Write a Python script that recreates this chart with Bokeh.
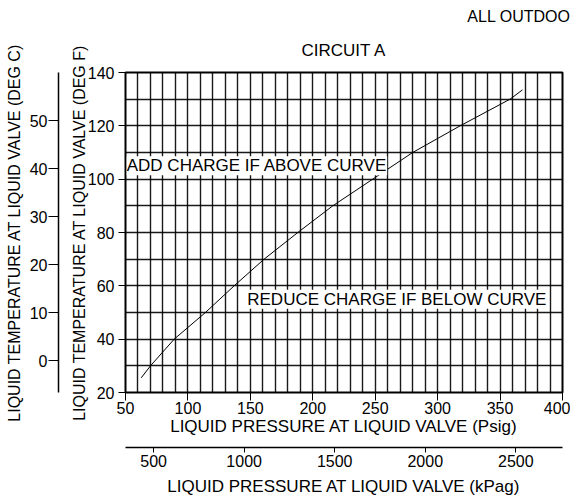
from bokeh.plotting import figure
from bokeh.models import (LinearAxis, Range1d, FixedTicker, SingleIntervalTicker,
                          Label, Title, Grid)
from bokeh.embed import file_html
from bokeh.resources import INLINE

# ---- data ----
psig = [62.6, 70, 89, 114, 137, 161, 188, 216, 248, 280, 318, 358, 368]
temp_f = [25.5, 30, 40, 50, 60, 70, 80, 90, 100, 110, 120, 130, 133.5]

psi_ticks = [50, 100, 150, 200, 250, 300, 350, 400]
degf_ticks = [20, 40, 60, 80, 100, 120, 140]
degc_ticks = [0, 10, 20, 30, 40, 50]
kpa_ticks = [500, 1000, 1500, 2000, 2500]

PSI_MIN, PSI_MAX = 50, 400
F_MIN, F_MAX = 20, 140
KPA_PER_PSI = 6.894757

FONT = "Liberation Sans"

p = figure(width=570, height=498, output_backend="svg", toolbar_location=None,
           x_range=Range1d(PSI_MIN, PSI_MAX), y_range=Range1d(F_MIN, F_MAX),
           x_axis_type=None, y_axis_type=None,
           min_border_left=125, min_border_right=8, min_border_top=72,
           min_border_bottom=106)
p.background_fill_color = "white"
p.border_fill_color = "white"
p.outline_line_color = "black"
p.outline_line_width = 2

p.extra_y_ranges = {"degc": Range1d((F_MIN - 32) / 1.8, (F_MAX - 32) / 1.8)}
p.extra_x_ranges = {"kpa": Range1d(PSI_MIN * KPA_PER_PSI, PSI_MAX * KPA_PER_PSI)}

# grids every 10 units
p.add_layout(Grid(dimension=0, ticker=SingleIntervalTicker(interval=10),
                  grid_line_color="black", grid_line_alpha=0.9, grid_line_width=1.4))
p.add_layout(Grid(dimension=1, ticker=SingleIntervalTicker(interval=10),
                  grid_line_color="black", grid_line_alpha=0.9, grid_line_width=1.4))


def style(ax, label_size="16px", title_size="17px"):
    ax.major_label_text_font = FONT
    ax.major_label_text_font_size = label_size
    ax.major_label_text_color = "black"
    ax.axis_label_text_font = FONT
    ax.axis_label_text_font_size = title_size
    ax.axis_label_text_font_style = "normal"
    ax.axis_label_text_color = "black"
    ax.minor_tick_line_color = None
    ax.major_tick_in = 0
    ax.major_tick_line_color = "black"
    ax.major_tick_line_width = 1


def spacer_axis(size, tick_value, **kw):
    # an invisible axis that only reserves `size` pixels of room
    ax = LinearAxis(ticker=FixedTicker(ticks=[tick_value]), **kw)
    ax.axis_line_color = None
    ax.major_tick_line_color = None
    ax.minor_tick_line_color = None
    ax.major_tick_out = size
    ax.major_tick_in = 0
    ax.major_label_standoff = 0
    ax.major_label_text_font_size = "0px"
    ax.major_label_text_alpha = 0
    return ax


# left: deg F axis
fax = LinearAxis(ticker=FixedTicker(ticks=degf_ticks),
                 axis_label="LIQUID TEMPERATURE AT LIQUID VALVE (DEG F)")
style(fax, title_size="16px")
fax.major_tick_out = 7
fax.major_label_standoff = 4
fax.axis_label_standoff = -3
fax.axis_line_color = None
p.add_layout(fax, "left")

p.add_layout(spacer_axis(9, F_MIN), "left")

cax = LinearAxis(y_range_name="degc", ticker=FixedTicker(ticks=degc_ticks),
                 axis_label="LIQUID TEMPERATURE AT LIQUID VALVE (DEG C)")
style(cax, title_size="16px")
cax.major_tick_out = 10
cax.major_label_standoff = 1
cax.axis_label_standoff = 4
cax.axis_line_color = "black"
cax.axis_line_width = 1.5
p.add_layout(cax, "left")

# bottom: psig axis, then kPag axis
xax = LinearAxis(ticker=FixedTicker(ticks=psi_ticks),
                 axis_label="LIQUID PRESSURE AT LIQUID VALVE (Psig)")
style(xax)
xax.major_tick_out = 8
xax.major_label_standoff = 1
xax.axis_label_standoff = 0
xax.axis_line_color = None
p.add_layout(xax, "below")

p.add_layout(spacer_axis(9, PSI_MIN), "below")

kax = LinearAxis(x_range_name="kpa", ticker=FixedTicker(ticks=kpa_ticks),
                 axis_label="LIQUID PRESSURE AT LIQUID VALVE (kPag)")
style(kax)
kax.major_tick_out = 5
kax.major_label_standoff = 2
kax.axis_label_standoff = 7
kax.axis_line_color = "black"
kax.axis_line_width = 1.5
p.add_layout(kax, "below")

# titles: the one added with add_layout sits next to the frame
p.title.text = "ALL OUTDOO"
p.title.align = "right"
p.title.offset = -8
p.title.text_font = FONT
p.title.text_font_size = "16px"
p.title.text_font_style = "normal"
p.title.text_color = "black"
p.title.standoff = 3

p.add_layout(Title(text="CIRCUIT A", align="center", text_font=FONT,
                   text_font_size="17px", text_font_style="normal",
                   text_color="black", standoff=25), "above")

# the curve
p.line(psig, temp_f, line_color="black", line_width=1)

# annotations
p.add_layout(Label(x=51, y=105, text="ADD CHARGE IF ABOVE CURVE", text_font=FONT,
                   text_font_size="17px", text_baseline="middle", text_color="black",
                   background_fill_color="white"))
p.add_layout(Label(x=147.5, y=55, text="REDUCE CHARGE IF BELOW CURVE", text_font=FONT,
                   text_font_size="17px", text_baseline="middle", text_color="black",
                   background_fill_color="white"))

open("out.html", "w").write(file_html(p, INLINE))
